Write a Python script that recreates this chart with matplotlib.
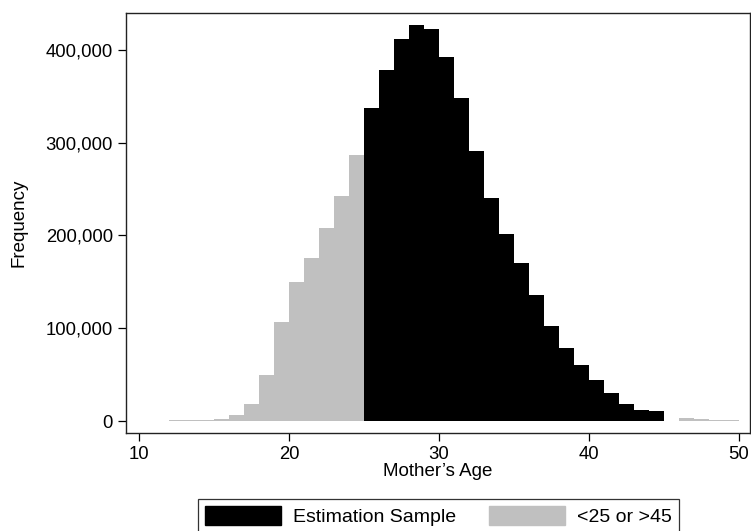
import matplotlib.pyplot as plt
from matplotlib.patches import Patch
from matplotlib.ticker import FuncFormatter

plt.rcParams['font.family'] = ['Liberation Sans', 'DejaVu Sans']

# mother's age bins (width 1 year, left edges)
young_ages = list(range(12, 25))
young_freq = [1300, 1300, 1600, 2500, 6500, 18000, 50000, 107000, 150000,
              176000, 208000, 242000, 287000]

sample_ages = list(range(25, 45))
sample_freq = [337000, 378000, 411000, 427000, 422000, 392000, 348000, 291000,
               240000, 202000, 170000, 136000, 103000, 79000, 60000, 44000,
               30000, 19000, 12000, 11000]

old_ages = [46, 47, 48, 49]
old_freq = [3000, 2200, 1800, 1800]

x_ticks = [10, 20, 30, 40, 50]
y_ticks = [0, 100000, 200000, 300000, 400000]

black = "#000000"
gray = "#c0c0c0"

fig = plt.figure(figsize=(7.51, 5.31), dpi=100)
ax = fig.add_axes([126 / 751, 98 / 531, 624 / 751, 420.3 / 531])

ax.bar(young_ages, young_freq, width=1, align="edge", color=gray, linewidth=0)
ax.bar(old_ages, old_freq, width=1, align="edge", color=gray, linewidth=0)
ax.bar(sample_ages, sample_freq, width=1, align="edge", color=black,
       linewidth=0)

ax.set_xlim(9.133, 50.73)
ax.set_ylim(-12700, 439800)
ax.set_xticks(x_ticks)
ax.set_yticks(y_ticks)
ax.yaxis.set_major_formatter(FuncFormatter(lambda v, p: f"{int(v):,}"))
ax.tick_params(axis="both", direction="out", length=5.8, width=0.9,
               labelsize=13.3, color="black", pad=3.5)

for s in ax.spines.values():
    s.set_linewidth(1.0)
    s.set_color("#222222")

ax.set_xlabel("Mother\u2019s Age", fontsize=13.5, labelpad=0)
ax.set_ylabel("Frequency", fontsize=13.5, labelpad=13)

handles = [Patch(facecolor=black, edgecolor=black, label="Estimation Sample"),
           Patch(facecolor=gray, edgecolor=gray, label="<25 or >45")]
leg = fig.legend(handles=handles, loc="upper center", ncol=2,
                 bbox_to_anchor=(438.5 / 751, 1 - 489 / 531),
                 fontsize=14, frameon=True, fancybox=False,
                 handlelength=3.9, handleheight=1.2, handletextpad=0.65,
                 columnspacing=1.65, borderpad=0.35)
leg.get_frame().set_edgecolor("black")
leg.get_frame().set_linewidth(0.9)

fig.savefig("out.png", dpi=100)
